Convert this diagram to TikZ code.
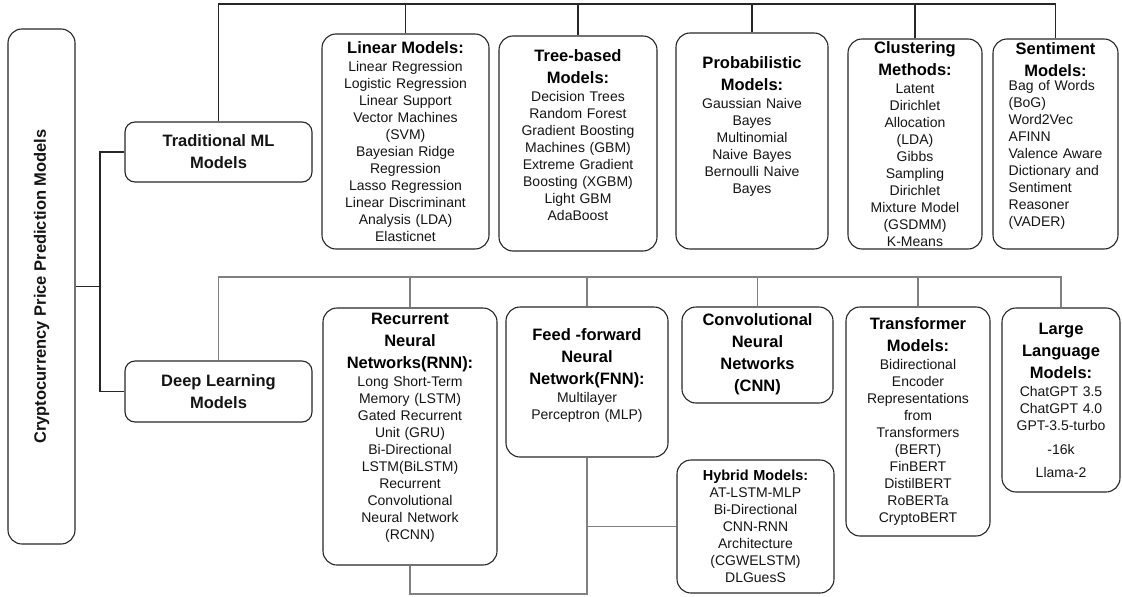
\documentclass[tikz,border=0pt]{standalone}
\usepackage{fontspec}
\setmainfont{Liberation Sans}
\usetikzlibrary{calc}
\newcommand{\hdfont}{\fontsize{16.5}{22}\selectfont\bfseries\color{black}}
\newcommand{\boxtitle}[1]{{\hdfont #1\par}\vspace{1pt}}
\newcommand{\botgap}[1]{\par\vspace{#1pt}}
\tikzset{
  box/.style={draw=black!85, line width=1.1pt, rounded corners=14pt, align=center, inner sep=3pt, font=\fontsize{14}{17}\selectfont, text=black!92},
  topline/.style={draw=black!85, line width=1.2pt},
  dlline/.style={draw=black!50, line width=1.1pt},
}

\begin{document}
\begin{tikzpicture}[x=1pt,y=-1pt]
		\useasboundingbox (0,0) rectangle (1122,597);
		%%%%% START %%%%%
		
		% root and the two families
		\node[box, font=\hdfont, minimum width=67pt, minimum height=515pt] (root) at (41.5,286.5) {\rotatebox{90}{Cryptocurrency Price Prediction Models}};
		\node[box, font=\hdfont, rounded corners=10pt, minimum width=187pt, minimum height=60pt] (trad) at (218.5,152) {Traditional ML\\Models};
		\node[box, font=\hdfont, rounded corners=10pt, minimum width=187pt, minimum height=61pt] (deep) at (218.5,391.5) {Deep Learning\\Models};
		
		% traditional ML row
		\node[box, text width=161pt, minimum height=215pt] (lin) at (405.5,141.5) {\boxtitle{Linear Models:}Linear Regression\\Logistic Regression\\Linear Support\\Vector Machines\\(SVM)\\Bayesian Ridge\\Regression\\Lasso Regression\\Linear Discriminant\\Analysis (LDA)\\Elasticnet};
		\node[box, text width=152pt, minimum height=215pt] (tree) at (578,143.5) {\boxtitle{Tree-based\\Models:}Decision Trees\\Random Forest\\Gradient Boosting\\Machines (GBM)\\Extreme Gradient\\Boosting (XGBM)\\Light GBM\\AdaBoost\botgap{16}};
		\node[box, text width=146pt, minimum height=216pt] (prob) at (752,141) {\boxtitle{Probabilistic\\Models:}Gaussian Naive\\Bayes\\Multinomial\\Naive Bayes\\Bernoulli Naive\\Bayes\botgap{30}};
		\node[box, text width=128pt, minimum height=210pt, inner ysep=0pt] (clus) at (915,144) {\boxtitle{Clustering\\Methods:}Latent\\Dirichlet\\Allocation\\(LDA)\\Gibbs\\Sampling\\Dirichlet\\Mixture Model\\(GSDMM)\\K-Means};
		\node[box, text width=119pt, minimum height=210pt] (sent) at (1055.5,144) {\boxtitle{Sentiment\\Models:}\begin{tabular}{@{}l@{}}Bag of Words\\(BoG)\\Word2Vec\\AFINN\\Valence Aware\\Dictionary and\\Sentiment\\Reasoner\\(VADER)\end{tabular}\botgap{14}};
		
		% deep learning row
		\node[box, text width=168pt, minimum height=257pt] (rnn) at (410,436.5) {\boxtitle{Recurrent\\Neural\\Networks(RNN):}Long Short-Term\\Memory (LSTM)\\Gated Recurrent\\Unit (GRU)\\Bi-Directional\\LSTM(BiLSTM)\\Recurrent\\Convolutional\\Neural Network\\(RCNN)\botgap{18}};
		\node[box, text width=156pt, minimum height=150pt] (fnn) at (587,382) {\boxtitle{Feed -forward\\Neural\\Network(FNN):}Multilayer\\Perceptron (MLP)\botgap{14}};
		\node[box, text width=145pt, minimum height=96pt] (cnn) at (757.5,355) {\boxtitle{Convolutional\\Neural\\Networks\\(CNN)}};
		\node[box, text width=138pt, minimum height=229pt] (trans) at (918,421.5) {\boxtitle{Transformer\\Models:}Bidirectional\\Encoder\\Representations\\from\\Transformers\\(BERT)\\FinBERT\\DistilBERT\\RoBERTa\\CryptoBERT};
		\node[box, text width=112pt, minimum height=184pt] (llm) at (1061,400) {\boxtitle{Large\\Language\\Models:}ChatGPT 3.5\\ChatGPT 4.0\\GPT-3.5-turbo\\[7pt]-16k\\[6pt]Llama-2};
		\node[box, text width=151pt, minimum height=133pt] (hyb) at (755.5,526.5) {{\fontsize{14.5}{17}\selectfont\bfseries\color{black}Hybrid Models:}\\AT-LSTM-MLP\\Bi-Directional\\CNN-RNN\\Architecture\\(CGWELSTM)\\DLGuesS};
		
		% connectors
		\coordinate (fork) at (100,286.5);
		\coordinate (tbar) at (0,4);
		\coordinate (dbar) at (0,277);
		\coordinate (hbot) at (0,594);
		
		\draw[topline] (root.east) -- (fork);
		\draw[topline] (trad.west) -| (fork) |- (deep.west);
		
		\draw[topline] (trad.north) |- (tbar -| sent.north) -- (sent.north);
		\foreach \b in {lin,tree,prob,clus}
			\draw[topline] (\b.north) -- (\b.north |- tbar);
		
		\draw[dlline] (deep.north) |- (dbar -| llm.north) -- (llm.north);
		\foreach \b in {rnn,fnn,cnn,trans}
			\draw[dlline] (\b.north) -- (\b.north |- dbar);
		
		\draw[dlline] (fnn.south) -- (fnn.south |- hbot) -| (rnn.south);
		\draw[dlline] (fnn.south |- hyb.west) -- (hyb.west);
		
		%%%%% END %%%%%
	\end{tikzpicture}
\end{document}
